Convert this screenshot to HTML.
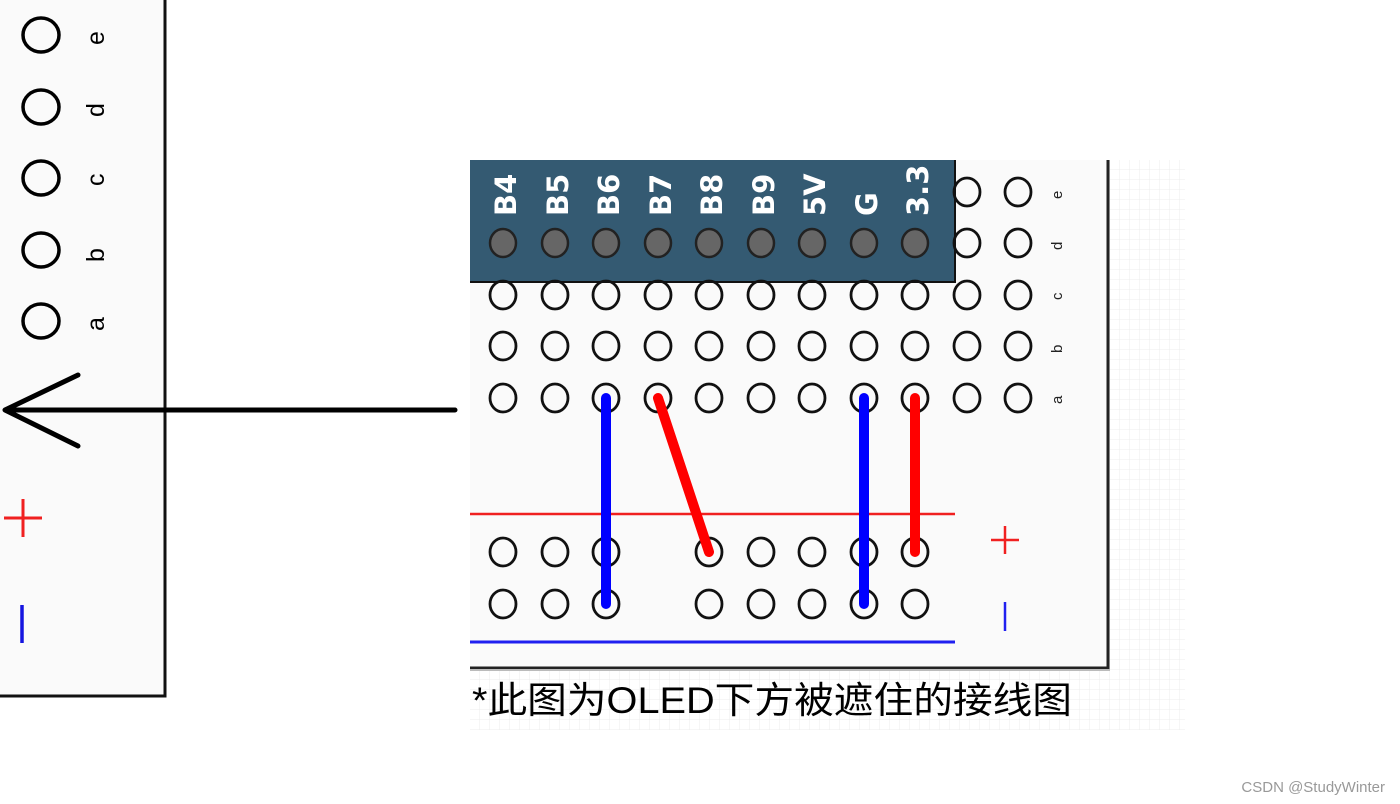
<!DOCTYPE html>
<html><head><meta charset="utf-8"><style>
html,body{margin:0;padding:0;background:#fff;width:1400px;height:804px;overflow:hidden}
svg{display:block}
</style></head><body>
<svg width="1400" height="804" viewBox="0 0 1400 804" xmlns="http://www.w3.org/2000/svg" font-family="Liberation Sans, DejaVu Sans, sans-serif">
<defs>
<pattern id="g" width="10" height="10" patternUnits="userSpaceOnUse">
<path d="M10 0V10H0" fill="none" stroke="#ececec" stroke-width="1"/>
</pattern>
</defs>
<rect x="470" y="160" width="715" height="570" fill="url(#g)"/>
<rect x="470" y="160" width="638" height="508" fill="#fafafa"/>
<path d="M1108 160V668H470" fill="none" stroke="#222" stroke-width="3"/>
<path d="M470 670H1110" stroke="#bbb" stroke-width="2"/>
<rect x="470" y="160" width="485" height="122" fill="#345a72"/>
<path d="M470 282H955V160" fill="none" stroke="#111" stroke-width="2"/>
<g fill="#fff" font-size="29" font-weight="bold" font-family="DejaVu Sans, Liberation Sans, sans-serif">
<text transform="translate(516,216) rotate(-90)">B4</text>
<text transform="translate(568,216) rotate(-90)">B5</text>
<text transform="translate(619,216) rotate(-90)">B6</text>
<text transform="translate(671,216) rotate(-90)">B7</text>
<text transform="translate(722,216) rotate(-90)">B8</text>
<text transform="translate(774,216) rotate(-90)">B9</text>
<text transform="translate(825,216) rotate(-90)">5V</text>
<text transform="translate(877,216) rotate(-90)">G</text>
<text transform="translate(928,216) rotate(-90)">3.3</text>
</g>
<g fill="#666" stroke="#222" stroke-width="2.5">
<ellipse cx="503" cy="243" rx="13" ry="14"/><ellipse cx="555" cy="243" rx="13" ry="14"/><ellipse cx="606" cy="243" rx="13" ry="14"/><ellipse cx="658" cy="243" rx="13" ry="14"/><ellipse cx="709" cy="243" rx="13" ry="14"/><ellipse cx="761" cy="243" rx="13" ry="14"/><ellipse cx="812" cy="243" rx="13" ry="14"/><ellipse cx="864" cy="243" rx="13" ry="14"/><ellipse cx="915" cy="243" rx="13" ry="14"/>
</g>
<g fill="none" stroke="#111" stroke-width="2.8">
<ellipse cx="967" cy="192" rx="13" ry="14"/><ellipse cx="1018" cy="192" rx="13" ry="14"/>
<ellipse cx="967" cy="243" rx="13" ry="14"/><ellipse cx="1018" cy="243" rx="13" ry="14"/>
<g id="row"><ellipse cx="503" cy="295" rx="13" ry="14"/><ellipse cx="555" cy="295" rx="13" ry="14"/><ellipse cx="606" cy="295" rx="13" ry="14"/><ellipse cx="658" cy="295" rx="13" ry="14"/><ellipse cx="709" cy="295" rx="13" ry="14"/><ellipse cx="761" cy="295" rx="13" ry="14"/><ellipse cx="812" cy="295" rx="13" ry="14"/><ellipse cx="864" cy="295" rx="13" ry="14"/><ellipse cx="915" cy="295" rx="13" ry="14"/><ellipse cx="967" cy="295" rx="13" ry="14"/><ellipse cx="1018" cy="295" rx="13" ry="14"/></g>
<use href="#row" y="51"/>
<use href="#row" y="103"/>
<g id="low"><ellipse cx="503" cy="552" rx="13" ry="14"/><ellipse cx="555" cy="552" rx="13" ry="14"/><ellipse cx="606" cy="552" rx="13" ry="14"/><ellipse cx="709" cy="552" rx="13" ry="14"/><ellipse cx="761" cy="552" rx="13" ry="14"/><ellipse cx="812" cy="552" rx="13" ry="14"/><ellipse cx="864" cy="552" rx="13" ry="14"/><ellipse cx="915" cy="552" rx="13" ry="14"/></g>
<use href="#low" y="52"/>
</g>
<g fill="#222" font-size="15">
<text transform="translate(1062,199) rotate(-90)">e</text>
<text transform="translate(1062,250) rotate(-90)">d</text>
<text transform="translate(1062,300) rotate(-90)">c</text>
<text transform="translate(1062,353) rotate(-90)">b</text>
<text transform="translate(1062,404) rotate(-90)">a</text>
</g>
<path d="M470 514H955" stroke="#f02020" stroke-width="2.5"/>
<path d="M470 642H955" stroke="#2020f0" stroke-width="3"/>
<path d="M991 540H1019M1005 526V554" stroke="#f02020" stroke-width="2.5"/>
<path d="M1005 602V631" stroke="#2020f0" stroke-width="2.5"/>
<g stroke-width="10" stroke-linecap="round">
<path d="M606 398V604" stroke="#0000ff"/>
<path d="M864 398V604" stroke="#0000ff"/>
<path d="M658 398L709 552" stroke="#ff0000"/>
<path d="M915 398V552" stroke="#ff0000"/>
</g>
<text x="472" y="713" font-size="37" fill="#000" textLength="600" lengthAdjust="spacingAndGlyphs" font-family="Liberation Sans, Noto Sans CJK SC, sans-serif">*此图为OLED下方被遮住的接线图</text>
<rect x="-3" y="-3" width="168" height="699" fill="#fafafa" stroke="#111" stroke-width="3"/>
<g fill="none" stroke="#000" stroke-width="3.5">
<ellipse cx="41" cy="35" rx="18" ry="17"/><ellipse cx="41" cy="107" rx="18" ry="17"/><ellipse cx="41" cy="178" rx="18" ry="17"/><ellipse cx="41" cy="250" rx="18" ry="17"/><ellipse cx="41" cy="321" rx="18" ry="17"/>
</g>
<g fill="#000" font-size="25">
<text transform="translate(104,45) rotate(-90)">e</text>
<text transform="translate(104,117) rotate(-90)">d</text>
<text transform="translate(104,186) rotate(-90)">c</text>
<text transform="translate(104,262) rotate(-90)">b</text>
<text transform="translate(104,331) rotate(-90)">a</text>
</g>
<path d="M455 410H5M78 375L5 410L78 446" fill="none" stroke="#000" stroke-width="5" stroke-linecap="round" stroke-linejoin="round"/>
<path d="M4 518H42M23 499V537" stroke="#f02020" stroke-width="3"/>
<path d="M22 605V643" stroke="#1515e0" stroke-width="3.5"/>
<text x="1385" y="792" font-size="15" fill="#999" text-anchor="end">CSDN @StudyWinter</text>
</svg>
</body></html>
